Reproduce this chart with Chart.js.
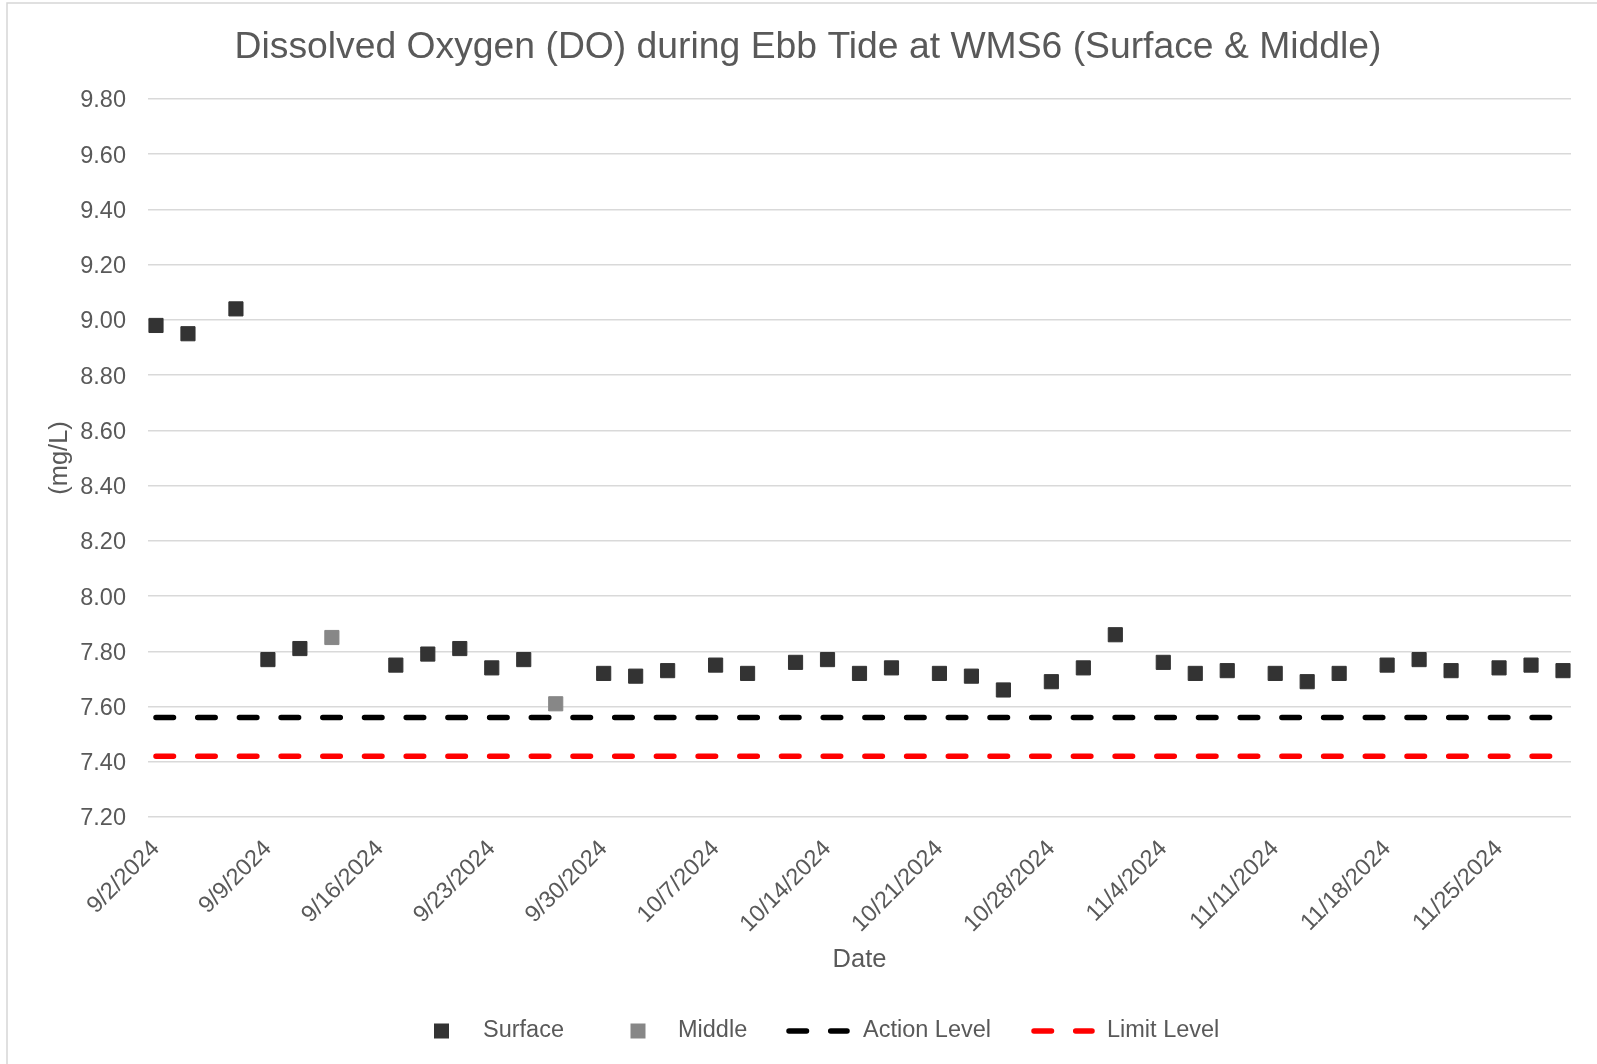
<!DOCTYPE html>
<html>
<head>
<meta charset="utf-8">
<title>Dissolved Oxygen at WMS6</title>
<script src="https://cdn.jsdelivr.net/npm/chart.js@4.4.1/dist/chart.umd.min.js"></script>
<style>
  html, body { margin: 0; padding: 0; background: #ffffff; }
  #wrap { position: relative; width: 1597px; height: 1064px; }
</style>
</head>
<body>
<div id="wrap"><canvas id="chart" width="1597" height="1064"></canvas></div>
<script>
// ---- Chart text ----
const chartTitle = 'Dissolved Oxygen (DO) during Ebb Tide at WMS6 (Surface & Middle)';
const xAxisTitle = 'Date';
const yAxisTitle = '(mg/L)';

// ---- Monitoring dates (ebb tide) ----
const sampleDates = [
  '9/2/2024', '9/4/2024', '9/7/2024', '9/9/2024', '9/11/2024', '9/13/2024',
  '9/17/2024', '9/19/2024', '9/21/2024', '9/23/2024', '9/25/2024', '9/27/2024',
  '9/30/2024', '10/2/2024', '10/4/2024', '10/7/2024', '10/9/2024', '10/12/2024',
  '10/14/2024', '10/16/2024', '10/18/2024', '10/21/2024', '10/23/2024', '10/25/2024',
  '10/28/2024', '10/30/2024', '11/1/2024', '11/4/2024', '11/6/2024', '11/8/2024',
  '11/11/2024', '11/13/2024', '11/15/2024', '11/18/2024', '11/20/2024', '11/22/2024',
  '11/25/2024', '11/27/2024', '11/29/2024'
];

// DO (mg/L), surface layer
const surfaceDO = [
  8.98, 8.95, 9.04, 7.77, 7.81, null,
  7.75, 7.79, 7.81, 7.74, 7.77, null,
  7.72, 7.71, 7.73, 7.75, 7.72, 7.76,
  7.77, 7.72, 7.74, 7.72, 7.71, 7.66,
  7.69, 7.74, 7.86, 7.76, 7.72, 7.73,
  7.72, 7.69, 7.72, 7.75, 7.77, 7.73,
  7.74, 7.75, 7.73
];

// DO (mg/L), middle layer
const middleDO = [
  null, null, null, null, null, 7.85,
  null, null, null, null, null, 7.61,
  null, null, null, null, null, null,
  null, null, null, null, null, null,
  null, null, null, null, null, null,
  null, null, null, null, null, null,
  null, null, null
];

// Compliance levels (mg/L)
const levelDates = ['9/2/2024', '11/29/2024'];
const actionLevel = [7.56, 7.56];
const limitLevel = [7.42, 7.42];

// Date axis tick labels (weekly)
const tickLabels = [
  '9/2/2024', '9/9/2024', '9/16/2024', '9/23/2024', '9/30/2024', '10/7/2024',
  '10/14/2024', '10/21/2024', '10/28/2024', '11/4/2024', '11/11/2024',
  '11/18/2024', '11/25/2024'
];

// Value axis range
const yMin = 7.2;
const yMax = 9.8;
const yStep = 0.2;

// ---- Helpers ----
const FONT = '"Liberation Sans", Arial, Helvetica, sans-serif';
const TEXT = '#595959';

function dayNumber(s) {
  const [m, d, y] = s.split('/').map(Number);
  return Math.round(Date.UTC(y, m - 1, d) / 86400000);
}
const originDay = dayNumber(sampleDates[0]);
const dayIndex = s => dayNumber(s) - originDay;

const toPoints = (dates, values) =>
  dates.map((d, i) => ({ x: dayIndex(d), y: values[i] })).filter(p => p.y !== null);

const labelByDay = {};
tickLabels.forEach(l => { labelByDay[dayIndex(l)] = l; });

const firstDay = dayIndex(sampleDates[0]);
const lastDay = dayIndex(sampleDates[sampleDates.length - 1]);

// ---- Styling of the series ----
const SURFACE_COLOR = '#333333';
const MIDDLE_COLOR = '#878787';
const ACTION_COLOR = '#000000';
const LIMIT_COLOR = '#ff0000';
const LEVEL_WIDTH = 5.5;
const LEVEL_DASH = [17.5, 24.2];

// Frame, title and legend
const decorations = {
  id: 'decorations',
  beforeDraw(chart) {
    const ctx = chart.ctx;
    ctx.save();
    ctx.fillStyle = '#ffffff';
    ctx.fillRect(0, 0, chart.width, chart.height);
    ctx.strokeStyle = '#d6d6d6';
    ctx.lineWidth = 1.5;
    ctx.beginPath();
    ctx.moveTo(7, chart.height + 2);
    ctx.lineTo(7, 3);
    ctx.lineTo(chart.width + 2, 3);
    ctx.stroke();
    ctx.restore();
  },
  afterDraw(chart) {
    const ctx = chart.ctx;
    ctx.save();
    // title
    ctx.fillStyle = TEXT;
    ctx.font = '37.3px ' + FONT;
    ctx.textAlign = 'center';
    ctx.textBaseline = 'alphabetic';
    ctx.fillText(chartTitle, 808, 58);

    // legend
    const ly = 1031;
    const ds = chart.data.datasets;
    ctx.font = '23.5px ' + FONT;
    ctx.textAlign = 'left';
    ctx.textBaseline = 'middle';

    const marker = (cx, color) => {
      ctx.fillStyle = color;
      ctx.fillRect(cx - 7.5, ly - 7.5, 15, 15);
    };
    const dashLine = (x0, x1, color) => {
      ctx.strokeStyle = color;
      ctx.lineWidth = LEVEL_WIDTH;
      ctx.lineCap = 'round';
      ctx.setLineDash(LEVEL_DASH);
      ctx.beginPath();
      ctx.moveTo(x0, ly);
      ctx.lineTo(x1, ly);
      ctx.stroke();
      ctx.setLineDash([]);
    };

    marker(441.5, ds[0].backgroundColor);
    ctx.fillStyle = TEXT;
    ctx.fillText(ds[0].label, 483, ly);

    marker(638, ds[1].backgroundColor);
    ctx.fillStyle = TEXT;
    ctx.fillText(ds[1].label, 678, ly);

    dashLine(789, 847, ds[2].borderColor);
    ctx.fillStyle = TEXT;
    ctx.fillText(ds[2].label, 863, ly);

    dashLine(1034, 1092, ds[3].borderColor);
    ctx.fillStyle = TEXT;
    ctx.fillText(ds[3].label, 1107, ly);
    ctx.restore();
  }
};

new Chart(document.getElementById('chart'), {
  type: 'scatter',
  data: {
    datasets: [
      {
        label: 'Surface',
        data: toPoints(sampleDates, surfaceDO),
        pointStyle: 'rect',
        pointRadius: 10,
        backgroundColor: SURFACE_COLOR,
        borderColor: SURFACE_COLOR,
        borderWidth: 1,
        showLine: false,
        order: 2
      },
      {
        label: 'Middle',
        data: toPoints(sampleDates, middleDO),
        pointStyle: 'rect',
        pointRadius: 10,
        backgroundColor: MIDDLE_COLOR,
        borderColor: MIDDLE_COLOR,
        borderWidth: 1,
        showLine: false,
        order: 1
      },
      {
        label: 'Action Level',
        data: toPoints(levelDates, actionLevel),
        showLine: true,
        borderColor: ACTION_COLOR,
        backgroundColor: ACTION_COLOR,
        borderWidth: LEVEL_WIDTH,
        borderDash: LEVEL_DASH,
        borderCapStyle: 'round',
        pointRadius: 0,
        fill: false,
        order: 4
      },
      {
        label: 'Limit Level',
        data: toPoints(levelDates, limitLevel),
        showLine: true,
        borderColor: LIMIT_COLOR,
        backgroundColor: LIMIT_COLOR,
        borderWidth: LEVEL_WIDTH,
        borderDash: LEVEL_DASH,
        borderCapStyle: 'round',
        pointRadius: 0,
        fill: false,
        order: 3
      }
    ]
  },
  options: {
    responsive: false,
    animation: false,
    events: [],
    layout: { padding: { left: 30, right: 26, top: 99, bottom: 89 } },
    plugins: {
      legend: { display: false },
      title: { display: false },
      tooltip: { enabled: false }
    },
    scales: {
      x: {
        type: 'linear',
        min: firstDay - 0.5,
        max: lastDay + 0.5,
        grid: { display: false },
        border: { display: false },
        afterBuildTicks: scale => {
          scale.ticks = tickLabels.map(l => ({ value: dayIndex(l) }));
        },
        afterFit: scale => { scale.height = 158; },
        ticks: {
          autoSkip: false,
          minRotation: 45,
          maxRotation: 45,
          padding: 10,
          color: TEXT,
          font: { family: FONT, size: 23.5 },
          callback: v => labelByDay[v] || ''
        },
        title: {
          display: true,
          text: xAxisTitle,
          color: TEXT,
          font: { family: FONT, size: 25.5 },
          padding: { top: 0, bottom: 0 }
        }
      },
      y: {
        min: yMin,
        max: yMax,
        afterFit: scale => { scale.width = 118; },
        grid: { color: '#d9d9d9', lineWidth: 1.5, drawTicks: false },
        border: { display: false },
        ticks: {
          stepSize: yStep,
          padding: 22,
          labelOffset: 2,
          color: TEXT,
          font: { family: FONT, size: 23.5 },
          callback: v => Number(v).toFixed(2)
        },
        title: {
          display: true,
          text: yAxisTitle,
          color: TEXT,
          font: { family: FONT, size: 25.5 },
          padding: { top: 15, bottom: 0 }
        }
      }
    }
  },
  plugins: [decorations]
});
</script>
</body>
</html>
